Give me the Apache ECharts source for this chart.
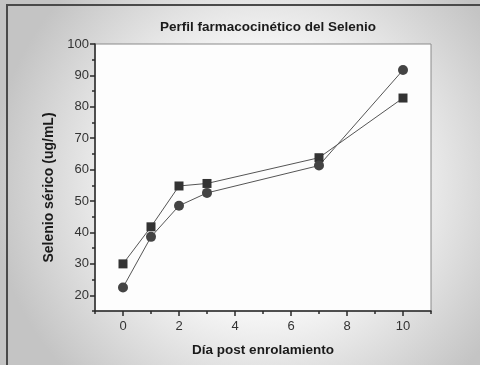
<!DOCTYPE html>
<html>
<head>
<meta charset="utf-8">
<script src="https://cdn.jsdelivr.net/npm/echarts@6/dist/echarts.min.js"></script>
<style>html,body{margin:0;padding:0;}#c{width:480px;height:365px;}</style>
</head>
<body>
<div id="c"></div>
<script>
const days = [0, 1, 2, 3, 7, 10];
const serieCuadros = [30, 41.8, 54.8, 55.6, 63.8, 82.8];
const serieCirculos = [22.5, 38.6, 48.5, 52.6, 61.3, 91.7];
const yTickLabels = [20, 30, 40, 50, 60, 70, 80, 90, 100];
const yMinorTicks = [15, 25, 35, 45, 55, 65, 75, 85, 95];
const xTickLabels = [0, 2, 4, 6, 8, 10];
const xMinorTicks = [-1, 1, 3, 5, 7, 9, 11];

const chart = echarts.init(document.getElementById('c'));
const font = 'Liberation Sans, Arial, sans-serif';
const axisColor = '#2a2a2a';
chart.setOption({
  animation: false,
  backgroundColor: {
    type: 'radial', x: 0.55, y: 0.5, r: 0.75,
    colorStops: [
      {offset: 0, color: '#ffffff'},
      {offset: 0.5, color: '#f4f4f4'},
      {offset: 1, color: '#c4c4c4'}
    ]
  },
  title: {
    text: 'Perfil farmacocinético del Selenio',
    left: 263, top: 15, textAlign: 'center',
    textStyle: {fontFamily: font, fontSize: 13.5, fontWeight: 'bold', color: '#1a1a1a'}
  },
  graphic: [
    {type: 'line', shape: {x1: 6, y1: 5, x2: 480, y2: 5}, style: {stroke: '#4a4a4a', lineWidth: 2}},
    {type: 'line', shape: {x1: 7, y1: 4, x2: 7, y2: 365}, style: {stroke: '#4a4a4a', lineWidth: 2}}
  ],
  grid: {left: 95, right: 49, top: 44, bottom: 54, show: true, backgroundColor: '#fdfdfd', borderColor: '#8a8a8a', borderWidth: 1},
  xAxis: [{
    type: 'value', min: -1, max: 11,
    name: 'Día post enrolamiento', nameLocation: 'middle', nameGap: 32,
    nameTextStyle: {fontFamily: font, fontSize: 13.5, fontWeight: 'bold', color: '#1a1a1a'},
    axisLine: {show: true, onZero: false, lineStyle: {color: axisColor, width: 1.5}},
    axisTick: {show: true, inside: false, length: 5, customValues: xTickLabels, lineStyle: {color: axisColor, width: 1.5}},
    axisLabel: {customValues: xTickLabels, fontFamily: font, fontSize: 13, color: '#333', margin: 9},
    splitLine: {show: false}
  }, {
    type: 'value', min: -1, max: 11, position: 'bottom',
    axisLine: {show: false, onZero: false},
    axisTick: {show: true, length: 3, customValues: xMinorTicks, lineStyle: {color: axisColor, width: 1.5}},
    axisLabel: {show: false},
    splitLine: {show: false}
  }],
  yAxis: [{
    type: 'value', min: 15, max: 100,
    name: 'Selenio sérico (ug/mL)', nameLocation: 'middle', nameGap: 39, nameRotate: 90,
    nameTextStyle: {fontFamily: font, fontSize: 14, fontWeight: 'bold', color: '#1a1a1a', padding: [0, 20, 0, 0]},
    axisLine: {show: true, onZero: false, lineStyle: {color: axisColor, width: 1.5}},
    axisTick: {show: true, length: 5, customValues: yTickLabels, lineStyle: {color: axisColor, width: 1.5}},
    axisLabel: {customValues: yTickLabels, fontFamily: font, fontSize: 13, color: '#333', margin: 6},
    splitLine: {show: false}
  }, {
    type: 'value', min: 15, max: 100, position: 'left',
    axisLine: {show: false, onZero: false},
    axisTick: {show: true, length: 3, customValues: yMinorTicks, lineStyle: {color: axisColor, width: 1.5}},
    axisLabel: {show: false},
    splitLine: {show: false}
  }],
  series: [{
    type: 'line', name: 'A',
    data: days.map((d, i) => [d, serieCuadros[i]]),
    symbol: 'rect', symbolSize: 9,
    lineStyle: {color: '#555', width: 1},
    itemStyle: {color: '#333', borderWidth: 0}
  }, {
    type: 'line', name: 'B',
    data: days.map((d, i) => [d, serieCirculos[i]]),
    symbol: 'circle', symbolSize: 10,
    lineStyle: {color: '#555', width: 1},
    itemStyle: {color: '#444', borderWidth: 0}
  }]
});
</script>
</body>
</html>
